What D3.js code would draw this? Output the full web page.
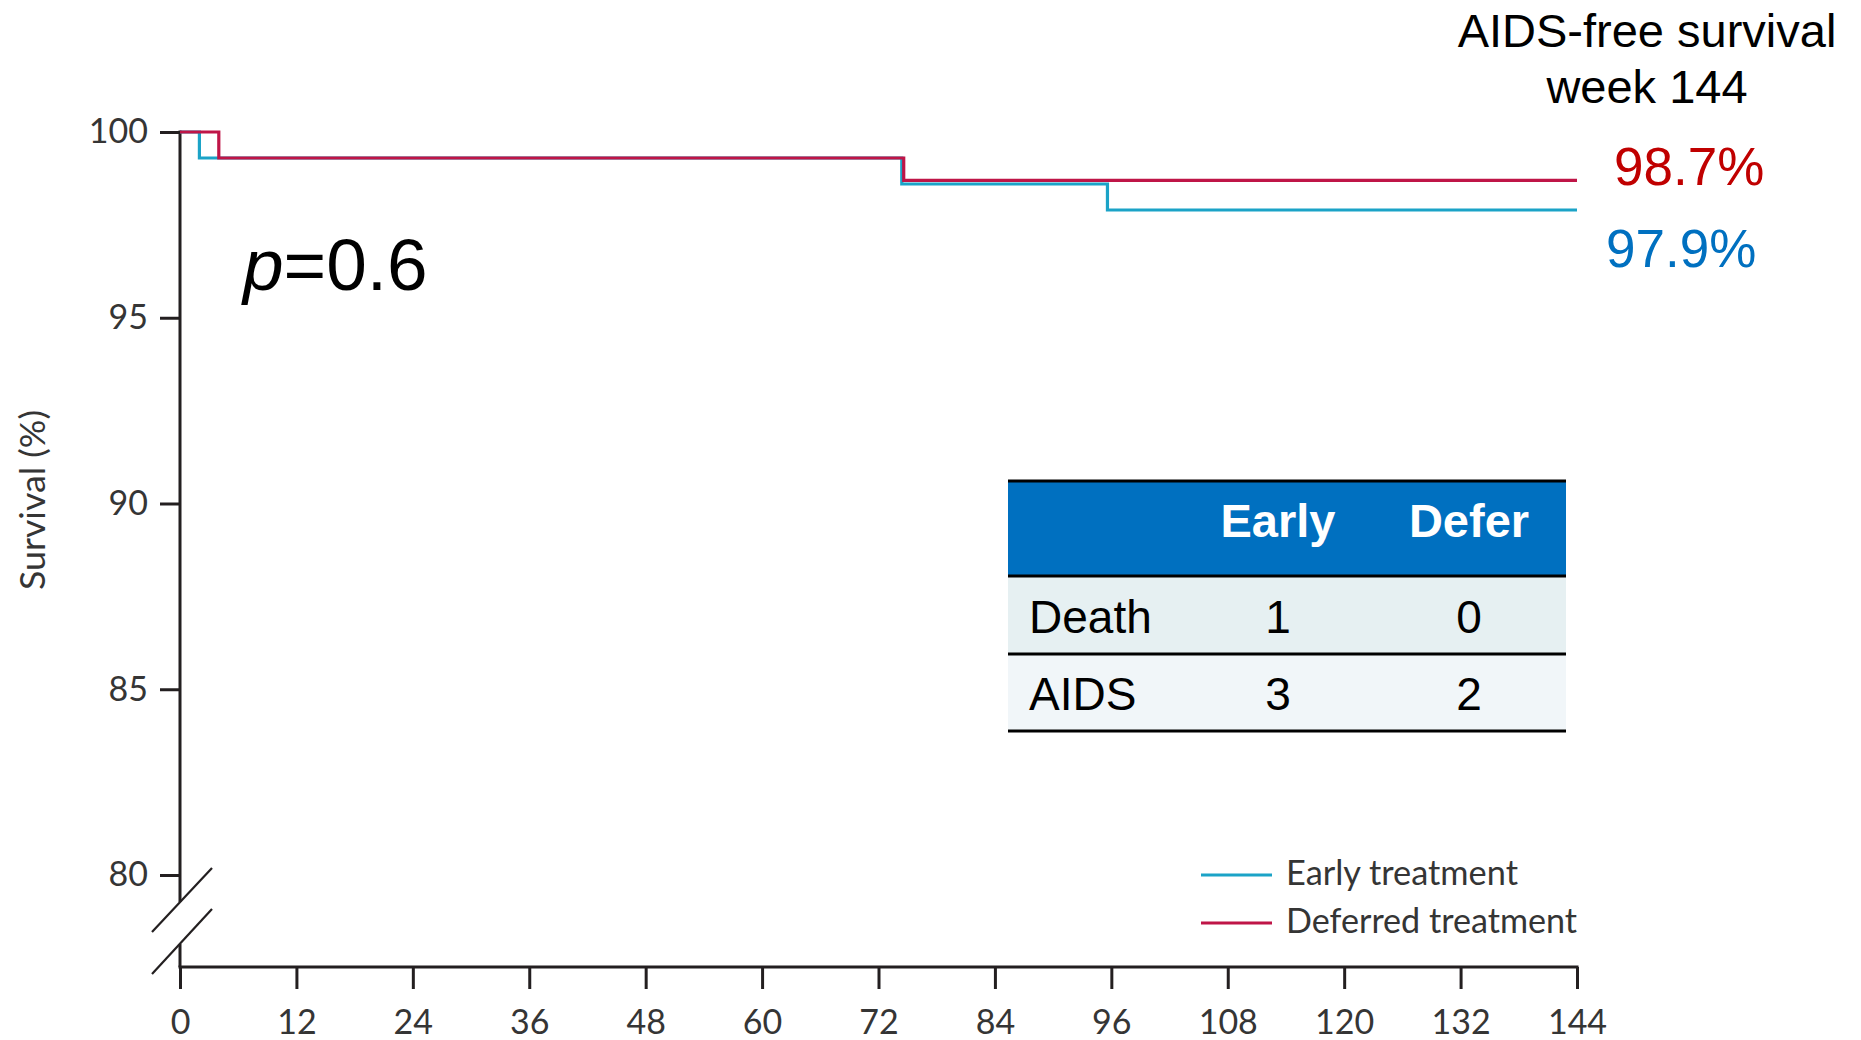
<!DOCTYPE html>
<html>
<head>
<meta charset="utf-8">
<script src="https://cdn.jsdelivr.net/npm/d3@7"></script>
<style>
  html, body { margin: 0; padding: 0; background: #ffffff; }
  svg { display: block; }
</style>
</head>
<body>
<svg id="chart" width="1861" height="1040"></svg>
<script>
// Kaplan-Meier AIDS-free survival, early vs deferred treatment
const earlyWeeks     = [0, 2, 74.4, 95.6, 144];
const earlySurvival  = [100, 99.3, 98.6, 97.9, 97.9];
const deferWeeks     = [0, 4, 74.6, 144];
const deferSurvival  = [100, 99.3, 98.7, 98.7];

const xTicks = [0, 12, 24, 36, 48, 60, 72, 84, 96, 108, 120, 132, 144];
const yTicks = [80, 85, 90, 95, 100];

const seriesNames = ["Early treatment", "Deferred treatment"];

// Event counts table
const tableColumns = ["Early", "Defer"];
const tableRows    = ["Death", "AIDS"];
const earlyCounts  = [1, 3];
const deferCounts  = [0, 2];

const pValue = "0.6";

const COL_EARLY = "#1ba3c7";
const COL_DEFER = "#bf1547";
const AXIS = "#231f20";
const TICKTXT = "#353535";
const SANS = "'Liberation Sans', Arial, Helvetica, sans-serif";
const LANCET = "Lato, 'Open Sans', sans-serif";

const svg = d3.select("#chart");

const x = d3.scaleLinear().domain([0, 144]).range([180, 1577]);
const y = d3.scaleLinear().domain([80, 100]).range([875, 132]);
const baseY = 967;

// ---- X axis ----
const xAxis = d3.axisBottom(x)
  .tickValues(xTicks)
  .tickSize(22)
  .tickSizeOuter(0)
  .tickPadding(21);
const gx = svg.append("g").attr("transform", `translate(0,${baseY})`).call(xAxis);
gx.select(".domain").remove();
gx.selectAll(".tick line").attr("stroke", AXIS).attr("stroke-width", 3);
gx.selectAll(".tick text")
  .attr("fill", TICKTXT)
  .style("font-family", LANCET)
  .style("font-size", "34px");
svg.append("line")
  .attr("x1", x(0) - 1.5).attr("x2", x(144) + 1.5)
  .attr("y1", baseY).attr("y2", baseY)
  .attr("stroke", AXIS).attr("stroke-width", 3);

// ---- Y axis (broken below 80) ----
const yAxis = d3.axisLeft(y)
  .tickValues(yTicks)
  .tickSize(20)
  .tickSizeOuter(0)
  .tickPadding(12);
const gy = svg.append("g").attr("transform", `translate(${x(0)},0)`).call(yAxis);
gy.select(".domain").remove();
gy.selectAll(".tick line").attr("stroke", AXIS).attr("stroke-width", 3);
gy.selectAll(".tick text")
  .attr("fill", TICKTXT)
  .style("font-family", LANCET)
  .style("font-size", "34px");

const x0 = x(0);
// upper part of the axis, down to the break
svg.append("line")
  .attr("x1", x0).attr("x2", x0)
  .attr("y1", y(100) - 1.5).attr("y2", 902)
  .attr("stroke", AXIS).attr("stroke-width", 3);
// lower stub between the break and the baseline
svg.append("line")
  .attr("x1", x0).attr("x2", x0)
  .attr("y1", 944).attr("y2", baseY)
  .attr("stroke", AXIS).attr("stroke-width", 3);
// break marks
[[932, 868], [974, 909]].forEach(([yb, yt]) => {
  svg.append("line")
    .attr("x1", x0 - 28).attr("y1", yb)
    .attr("x2", x0 + 32).attr("y2", yt)
    .attr("stroke", AXIS).attr("stroke-width", 2.2);
});

// Y axis title
svg.append("text")
  .attr("transform", `translate(45,${(410 + 590) / 2}) rotate(-90)`)
  .attr("text-anchor", "middle")
  .attr("fill", TICKTXT)
  .attr("textLength", 180)
  .attr("lengthAdjust", "spacingAndGlyphs")
  .style("font-family", LANCET)
  .style("font-size", "35px")
  .text("Survival (%)");

// ---- Survival curves ----
const line = d3.line()
  .x(d => x(d[0]))
  .y(d => y(d[1]))
  .curve(d3.curveStepAfter);

const earlyData = earlyWeeks.map((w, i) => [w, earlySurvival[i]]);
const deferData = deferWeeks.map((w, i) => [w, deferSurvival[i]]);

svg.append("path").datum(earlyData)
  .attr("d", line).attr("fill", "none")
  .attr("stroke", COL_EARLY).attr("stroke-width", 3.2);
svg.append("path").datum(deferData)
  .attr("d", line).attr("fill", "none")
  .attr("stroke", COL_DEFER).attr("stroke-width", 3.2);

// ---- p value ----
const pText = svg.append("text")
  .attr("x", 243).attr("y", 290)
  .attr("fill", "#000")
  .style("font-family", SANS)
  .style("font-size", "73px");
pText.append("tspan").style("font-style", "italic").text("p");
pText.append("tspan").text("=" + pValue);

// ---- Week 144 annotation ----
svg.append("text")
  .attr("x", 1647).attr("y", 47)
  .attr("text-anchor", "middle")
  .attr("fill", "#000")
  .style("font-family", SANS).style("font-size", "47px")
  .text("AIDS-free survival");
svg.append("text")
  .attr("x", 1647).attr("y", 103)
  .attr("text-anchor", "middle")
  .attr("fill", "#000")
  .style("font-family", SANS).style("font-size", "47px")
  .text("week 144");

const fmt = d3.format(".1f");
svg.append("text")
  .attr("x", 1614).attr("y", 185)
  .attr("fill", "#c00000")
  .style("font-family", SANS).style("font-size", "53px")
  .text(fmt(deferSurvival[deferSurvival.length - 1]) + "%");
svg.append("text")
  .attr("x", 1606).attr("y", 267)
  .attr("fill", "#0070c0")
  .style("font-family", SANS).style("font-size", "53px")
  .text(fmt(earlySurvival[earlySurvival.length - 1]) + "%");

// ---- Events table ----
const tLeft = 1008, tRight = 1566;
const rowEdges = [481, 576, 654, 731];
const colCenters = [1278, 1469];
const rowFills = ["#e6f0f2", "#f1f6f9"];

svg.append("rect")
  .attr("x", tLeft).attr("y", rowEdges[0])
  .attr("width", tRight - tLeft).attr("height", rowEdges[1] - rowEdges[0])
  .attr("fill", "#0070c0");
tableRows.forEach((r, i) => {
  svg.append("rect")
    .attr("x", tLeft).attr("y", rowEdges[i + 1])
    .attr("width", tRight - tLeft).attr("height", rowEdges[i + 2] - rowEdges[i + 1])
    .attr("fill", rowFills[i]);
});
rowEdges.forEach(e => {
  svg.append("line")
    .attr("x1", tLeft).attr("x2", tRight)
    .attr("y1", e).attr("y2", e)
    .attr("stroke", "#000").attr("stroke-width", 3);
});
tableColumns.forEach((c, j) => {
  svg.append("text")
    .attr("x", colCenters[j]).attr("y", 537)
    .attr("text-anchor", "middle")
    .attr("fill", "#fff")
    .style("font-family", SANS).style("font-weight", "bold").style("font-size", "47px")
    .text(c);
});
const rowBaselines = [633, 710];
tableRows.forEach((r, i) => {
  svg.append("text")
    .attr("x", 1029).attr("y", rowBaselines[i])
    .attr("fill", "#000")
    .style("font-family", SANS).style("font-size", "46px")
    .text(r);
  [earlyCounts[i], deferCounts[i]].forEach((v, j) => {
    svg.append("text")
      .attr("x", colCenters[j]).attr("y", rowBaselines[i])
      .attr("text-anchor", "middle")
      .attr("fill", "#000")
      .style("font-family", SANS).style("font-size", "46px")
      .text(v);
  });
});

// ---- Legend ----
const legendColors = [COL_EARLY, COL_DEFER];
const legendY = [875, 923];
const legendWidths = [232, 291];
seriesNames.forEach((name, i) => {
  svg.append("line")
    .attr("x1", 1201).attr("x2", 1272)
    .attr("y1", legendY[i]).attr("y2", legendY[i])
    .attr("stroke", legendColors[i]).attr("stroke-width", 3);
  svg.append("text")
    .attr("x", 1286).attr("y", legendY[i] + 10)
    .attr("fill", TICKTXT)
    .attr("textLength", legendWidths[i])
    .attr("lengthAdjust", "spacingAndGlyphs")
    .style("font-family", LANCET).style("font-size", "34px")
    .text(name);
});
</script>
</body>
</html>
